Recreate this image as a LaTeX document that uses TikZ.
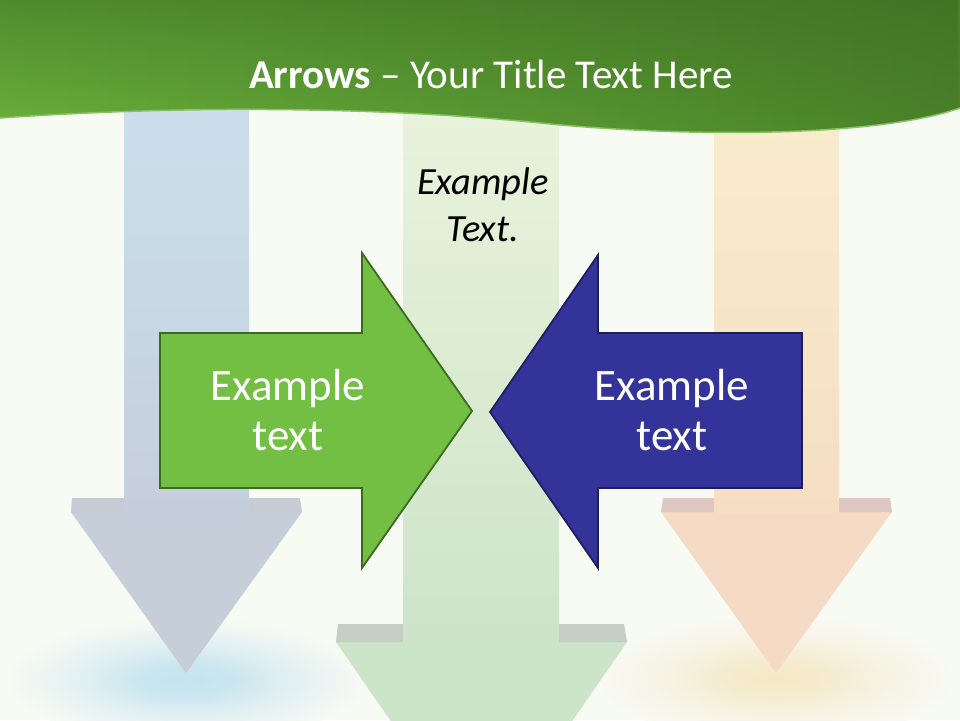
\documentclass[tikz,border=0pt]{standalone}
\usepackage{fontspec}
\setmainfont{Carlito}
\usetikzlibrary{fadings}
\definecolor{bg}{HTML}{F8FAF4}
\definecolor{banlight}{HTML}{6CB33D}
\definecolor{banright}{HTML}{4A8229}
\definecolor{bantop}{HTML}{3A6A20}
\definecolor{banedge}{HTML}{86C263}
\definecolor{lshafttop}{HTML}{CAE0EC}
\definecolor{lshaftbot}{HTML}{C5CFDB}
\definecolor{lhead}{HTML}{C5CED9}
\definecolor{lledge}{HTML}{C6CBD4}
\definecolor{mshafttop}{HTML}{EAF3DC}
\definecolor{mshaftbot}{HTML}{CDE4C8}
\definecolor{mhead}{HTML}{CCE4C8}
\definecolor{mledge}{HTML}{C4CEC3}
\definecolor{rshafttop}{HTML}{F8EDCD}
\definecolor{rshaftbot}{HTML}{F6DEC3}
\definecolor{rhead}{HTML}{F5DAC5}
\definecolor{rledge}{HTML}{DFC8C4}
\definecolor{greenfill}{HTML}{72BF44}
\definecolor{greenline}{HTML}{3B6B1F}
\definecolor{bluefill}{HTML}{333399}
\definecolor{blueline}{HTML}{1E1E5A}
\pgfdeclareradialshading{glowblueshade}{\pgfpoint{0bp}{0bp}}{%
  rgb(0bp)=(0.77,0.89,0.94); rgb(6bp)=(0.79,0.90,0.94);
  rgb(14bp)=(0.88,0.94,0.95); rgb(25bp)=(0.973,0.980,0.957); rgb(50bp)=(0.973,0.980,0.957)}
\pgfdeclareradialshading{glowyelshade}{\pgfpoint{0bp}{0bp}}{%
  rgb(0bp)=(0.96,0.91,0.77); rgb(6bp)=(0.96,0.92,0.80);
  rgb(14bp)=(0.965,0.95,0.88); rgb(25bp)=(0.973,0.980,0.957); rgb(50bp)=(0.973,0.980,0.957)}
\tikzset{
  bigtext/.style={text=white, align=center, font=\fontsize{45}{50}\selectfont},
  midtext/.style={text=black, align=center, font=\fontsize{38.5}{47}\selectfont\itshape},
  titletext/.style={text=white, font=\fontsize{41}{46}\selectfont},
  bigarrow/.style={line width=1.8pt, line join=miter}
}
\begin{document}
\begin{tikzpicture}[x=1pt,y=-1pt]
\useasboundingbox (0,0) rectangle (960,720);
\clip (0,0) rectangle (960,720);
% background
\fill[bg] (0,0) rectangle (960,720);
% glows
\shade[shading=glowblueshade] (186,680) ellipse [x radius=180, y radius=62];
\shade[shading=glowyelshade] (776,678) ellipse [x radius=180, y radius=62];
% left down arrow
\fill[lhead] (71,512) -- (302,512) -- (186,673) -- cycle;
\fill[lledge] (72,498) -- (300,498) -- (302,512) -- (71,512) -- cycle;
\shade[top color=lshafttop, bottom color=lshaftbot] (124,100) rectangle (249,512);
% middle down arrow
\fill[mhead] (336,642) -- (627,642) -- (481.5,852) -- cycle;
\fill[mledge] (338,624) -- (624,624) -- (627,642) -- (336,642) -- cycle;
\shade[top color=mshafttop, bottom color=mshaftbot] (403,100) rectangle (559,642);
% right down arrow
\fill[rhead] (661,512) -- (892,512) -- (776,673) -- cycle;
\fill[rledge] (663,498) -- (890,498) -- (892,512) -- (661,512) -- cycle;
\shade[top color=rshafttop, bottom color=rshaftbot] (714,100) rectangle (839,512);
% banner
\def\banpath{(0,0) -- (960,0) -- (960,108) .. controls (880,136) and (700,138) .. (550,124)
  .. controls (400,108) and (200,104) .. (0,118) -- cycle}
\shade[left color=banlight, right color=banright] \banpath;
\fill[bantop, path fading=south, fill opacity=0.55] \banpath;
\draw[banedge, line width=1.5pt] (960,108) .. controls (880,136) and (700,138) .. (550,124)
  .. controls (400,108) and (200,104) .. (0,118);
\node[titletext] (title) at (491,74) {\textbf{Arrows} – Your Title Text Here};
% middle text
\node[midtext] (mid) at (483,205) {Example\\Text.};
% green arrow
\filldraw[bigarrow, fill=greenfill, draw=greenline]
  (160,333) -- (362,333) -- (362,253) -- (472,411) -- (362,568) -- (362,488) -- (160,488) -- cycle;
\node[bigtext] (gtext) at (288,410) {Example\\text};
% blue arrow
\filldraw[bigarrow, fill=bluefill, draw=blueline]
  (802,333) -- (598,333) -- (598,255) -- (490,412) -- (598,568) -- (598,488) -- (802,488) -- cycle;
\node[bigtext] (btext) at (672,410) {Example\\text};
\end{tikzpicture}
\end{document}
